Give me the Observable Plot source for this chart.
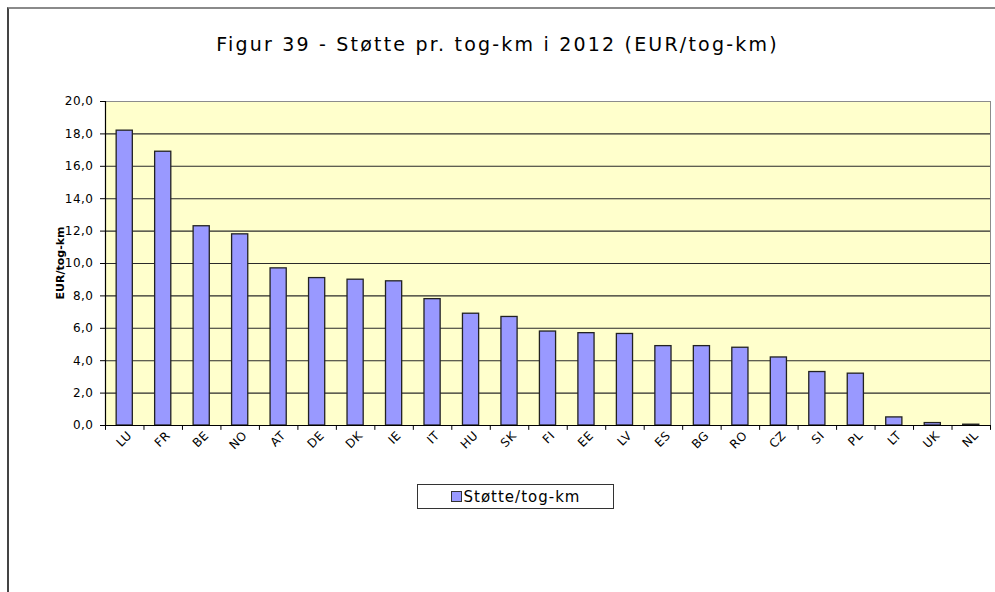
<!DOCTYPE html>
<html>
<head>
<meta charset="utf-8">
<script src="https://cdn.jsdelivr.net/npm/d3@7"></script>
<script src="https://cdn.jsdelivr.net/npm/@observablehq/plot@0.6"></script>
<style>
  html, body { margin: 0; padding: 0; background: #fff; width: 995px; height: 592px; overflow: hidden; }
  #wrap { position: relative; width: 995px; height: 592px; font-family: "DejaVu Sans", Verdana, sans-serif; }
  #border { position: absolute; left: 7px; top: 7px; width: 1000px; height: 600px; border-left: 2px solid #444; border-top: 2px solid #8a8a8a; box-sizing: border-box; }
  #title { position: absolute; left: 0; width: 995px; top: 33px; text-align: center; font-size: 19px; letter-spacing: 2.2px; color: #000; }
  #ylabel { position: absolute; left: 60px; top: 263px; transform: translate(-50%, -50%) rotate(-90deg); font-size: 11px; font-weight: bold; white-space: nowrap; }
  #legend { position: absolute; left: 417px; top: 484px; width: 197px; height: 25px; box-sizing: border-box; border: 1px solid #333; background: #fff; display: flex; align-items: center; justify-content: center; font-size: 15px; letter-spacing: 1px; }
  #legend .sw { display: inline-block; width: 9px; height: 9px; background: #9999FF; border: 1px solid #333; margin-right: 2px; }
  #chart { position: absolute; left: 0; top: 0; }
  #chart svg text { letter-spacing: 0.5px; }
</style>
</head>
<body>
<div id="wrap">
  <div id="border"></div>
  <div id="chart"></div>
  <div id="title">Figur 39 - Støtte pr. tog-km i 2012 (EUR/tog-km)</div>
  <div id="ylabel">EUR/tog-km</div>
  <div id="legend"><span class="sw"></span><span>Støtte/tog-km</span></div>
</div>
<script>
const categories = ["LU","FR","BE","NO","AT","DE","DK","IE","IT","HU","SK","FI","EE","LV","ES","BG","RO","CZ","SI","PL","LT","UK","NL"];
const values = [18.2,16.9,12.3,11.8,9.7,9.1,9.0,8.9,7.8,6.9,6.7,5.8,5.7,5.65,4.9,4.9,4.8,4.2,3.3,3.2,0.5,0.15,0.05];
const yTicks = [0,2,4,6,8,10,12,14,16,18,20];
const seriesName = "Støtte/tog-km";

const data = categories.map((c, i) => ({cat: c, val: values[i]}));
const W = 995, H = 592, mL = 105, mR = 5, mT = 101, mB = 167;
const step = (W - mL - mR) / categories.length;
const fmt = d => d.toFixed(1).replace(".", ",");

const chart = Plot.plot({
  width: W, height: H,
  marginLeft: mL, marginRight: mR, marginTop: mT, marginBottom: mB,
  style: {fontFamily: "DejaVu Sans, Verdana, sans-serif", fontSize: "12px", background: "transparent", overflow: "visible"},
  x: {domain: categories, paddingInner: 0.58, paddingOuter: 0.29, round: false, axis: null},
  y: {domain: [0, 20], axis: null},
  marks: [
    Plot.frame({fill: "#FFFFCC", stroke: "#8c8c8c"}),
    Plot.ruleY(yTicks.filter(t => t > 0 && t < 20), {stroke: "#2a2a2a", strokeWidth: 1.1}),
    Plot.barY(data, {x: "cat", y: "val", fill: "#9999FF", stroke: "#222", strokeWidth: 1.3}),
    Plot.ruleY([0], {stroke: "#000", strokeWidth: 1.2}),
    Plot.ruleX([categories[0]], {dx: -step / 2, stroke: "#000", strokeWidth: 1.2}),
    Plot.ruleX(categories, {x: d => d, y1: 0, y2: -0.3, dx: -step / 2, stroke: "#000"}),
    Plot.ruleX([categories[categories.length - 1]], {y1: 0, y2: -0.3, dx: step / 2, stroke: "#000"}),
    Plot.axisY({ticks: yTicks, tickSize: 5, tickPadding: 7, tickFormat: fmt, stroke: "#000", label: null, fontSize: 12}),
    Plot.axisX({tickSize: 0, tickPadding: 8, tickRotate: -45, dx: 5, label: null, fontSize: 12})
  ]
});
document.getElementById("chart").appendChild(chart);
</script>
</body>
</html>
